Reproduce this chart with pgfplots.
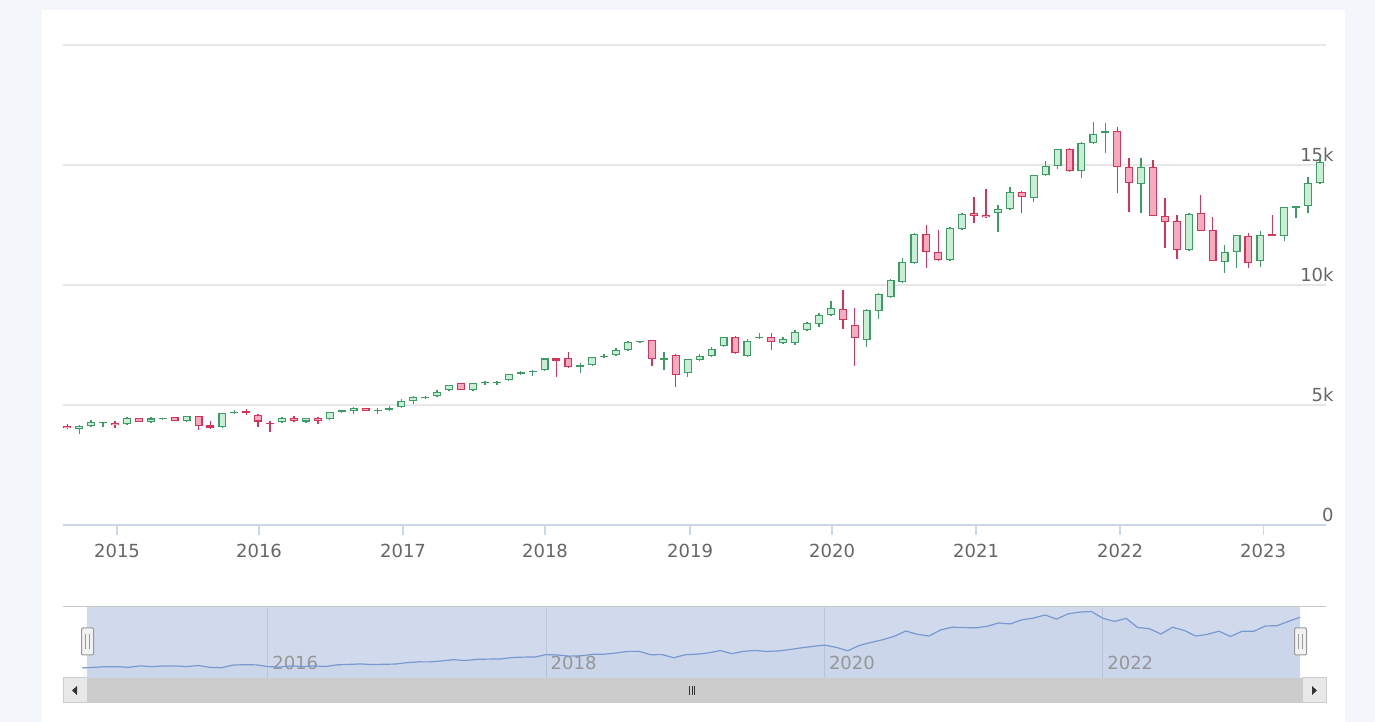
\documentclass[border=0pt]{standalone}
\usepackage{fontspec}
\setmainfont{DejaVu Sans}
\usepackage{pgfplots}
\usepackage{pgfplotstable}
\pgfplotsset{compat=1.18}

\definecolor{bgout}{RGB}{243,246,251}
\definecolor{gridgray}{RGB}{230,230,230}
\definecolor{axiscol}{RGB}{204,214,235}
\definecolor{labgray}{RGB}{102,102,102}
\definecolor{navlab}{RGB}{150,150,150}
\definecolor{upline}{RGB}{62,155,100}
\definecolor{upfill}{RGB}{200,238,214}
\definecolor{downline}{RGB}{212,52,90}
\definecolor{downfill}{RGB}{246,170,190}
\definecolor{maskcol}{RGB}{209,218,237}
\definecolor{navgrid}{RGB}{190,199,218}
\definecolor{navline}{RGB}{122,152,208}
\definecolor{outlinecol}{RGB}{200,200,200}
\definecolor{handlefill}{RGB}{242,242,242}
\definecolor{handledraw}{RGB}{153,153,153}
\definecolor{thumb}{RGB}{204,204,204}
\definecolor{btn}{RGB}{232,232,232}
\definecolor{arrowcol}{RGB}{51,51,51}

% month index m: 0 = Jan 2015
\pgfplotstableread{
m o h l c
-4 4140 4220 4010 4030
-3 4000 4150 3780 4140
-2 4140 4370 4130 4280
-1 4250 4290 4100 4290
0 4250 4330 4060 4150
1 4200 4480 4190 4470
2 4450 4470 4290 4300
3 4300 4510 4290 4440
4 4400 4460 4380 4440
5 4490 4500 4320 4330
6 4340 4560 4330 4540
7 4540 4560 3960 4140
8 4150 4330 3990 4060
9 4100 4660 4090 4650
10 4680 4810 4620 4720
11 4760 4830 4600 4680
12 4580 4620 4100 4310
13 4250 4330 3890 4200
14 4280 4480 4270 4470
15 4470 4530 4300 4320
16 4310 4470 4300 4460
17 4470 4480 4190 4330
18 4400 4720 4390 4700
19 4720 4810 4700 4790
20 4760 4900 4630 4890
21 4870 4880 4740 4760
22 4780 4870 4630 4810
23 4810 4950 4760 4870
24 4900 5230 4890 5170
25 5170 5360 5060 5350
26 5280 5360 5260 5340
27 5380 5620 5370 5560
28 5620 5850 5610 5830
29 5900 5910 5620 5640
30 5640 5920 5630 5900
31 5920 5980 5850 5950
32 5930 5990 5830 5970
33 6040 6290 6030 6280
34 6310 6420 6290 6390
35 6360 6450 6210 6400
36 6450 6950 6440 6940
37 6940 6970 6150 6850
38 6950 7200 6550 6600
39 6600 6760 6330 6680
40 6680 7020 6670 7000
41 6990 7130 6980 7030
42 7080 7360 7070 7290
43 7290 7660 7280 7640
44 7630 7680 7570 7660
45 7700 7720 6630 6920
46 6880 7220 6460 6940
47 7080 7120 5760 6250
48 6320 6930 6150 6920
49 6880 7120 6870 7040
50 7040 7430 7030 7330
51 7460 7840 7450 7820
52 7850 7870 7130 7150
53 7050 7730 7030 7660
54 7800 7990 7790 7850
55 7850 7990 7290 7640
56 7570 7850 7560 7740
57 7600 8130 7500 8060
58 8130 8440 8120 8430
59 8370 8820 8260 8750
60 8750 9350 8740 9030
61 8990 9790 8150 8540
62 8330 9030 6630 7780
63 7710 9000 7430 8960
64 8900 9680 8600 9620
65 9510 10250 9450 10210
66 10140 11110 10100 10970
67 10930 12150 10900 12125
68 12125 12500 10690 11390
69 11390 12290 11000 11040
70 11040 12400 11000 12360
71 12320 13000 12300 12960
72 12990 13680 12570 12880
73 12920 13990 12780 12820
74 12990 13330 12220 13150
75 13150 14100 13140 13890
76 13890 13900 12990 13680
77 13610 14600 13470 14580
78 14580 15180 14570 14960
79 14960 15680 14820 15650
80 15650 15700 14720 14750
81 14750 15950 14440 15900
82 15900 16810 15880 16290
83 16350 16740 15510 16400
84 16430 16600 13820 14900
85 14930 15280 13060 14240
86 14210 15280 12990 14900
87 14900 15210 12860 12880
88 12880 13610 11530 12640
89 12680 12920 11070 11460
90 11460 13000 11430 12960
91 12990 13750 12250 12260
92 12290 12850 10990 11010
93 10970 11670 10490 11390
94 11390 12100 10690 12080
95 12040 12180 10690 10930
96 11010 12260 10760 12080
97 12110 12920 12040 12050
98 12050 13260 11820 13240
99 13200 13300 12780 13280
100 13290 14510 12990 14260
101 14260 15350 14220 15140
}\candles

\begin{document}
\begin{tikzpicture}
% backgrounds
\fill[bgout] (0pt,0pt) rectangle (687.5pt,361pt);
\fill[white] (21pt,0pt) rectangle (672.5pt,356pt);
% navigator mask (selected range)
\fill[maskcol] (43.5pt,22pt) rectangle (650pt,57.5pt);
\draw[outlinecol, line width=0.5pt] (31.5pt,57.5pt) -- (663pt,57.5pt);

% ---------------- main chart ----------------
\begin{axis}[
  at={(31.5pt,98.5pt)}, anchor=south west,
  scale only axis, width=631.5pt, height=240pt,
  xmin=-4.36, xmax=101.5, ymin=0, ymax=20000,
  axis x line*=bottom, axis y line*=right,
  x axis line style={draw=axiscol, line width=0.6pt, -},
  y axis line style={draw=none},
  xtick={0.17,12.07,24.14,36.04,48.2,60.1,72.17,84.24,96.23},
  xticklabels={2015,2016,2017,2018,2019,2020,2021,2022,2023},
  ytick={0,5000,10000,15000,20000},
  yticklabels={0,5k,10k,15k,{}},
  ymajorgrids, grid style={draw=gridgray, line width=0.6pt},
  tick align=outside, major tick length=5pt,
  xtick style={draw=axiscol, line width=0.6pt},
  ytick style={draw=none},
  ticklabel style={font=\fontsize{9}{11}\selectfont, text=labgray},
  xticklabel style={anchor=north, inner sep=0pt, yshift=-4.5pt},
  yticklabel style={anchor=south east, inner sep=0pt, xshift=-1pt, yshift=1.5pt},
  scaled y ticks=false,
]
% up candles: wicks
\addplot[forget plot, draw=none, mark=none,
  error bars/.cd, y dir=both, y explicit, error mark=none,
  error bar style={draw=upline, line width=0.7pt}]
  table[x=m, y=o,
    y error plus expr={(\thisrow{h}-\thisrow{o})*(\thisrow{c}>=\thisrow{o})},
    y error minus expr={(\thisrow{o}-\thisrow{l})*(\thisrow{c}>=\thisrow{o})}] {\candles};
% down candles: wicks
\addplot[forget plot, draw=none, mark=none,
  error bars/.cd, y dir=both, y explicit, error mark=none,
  error bar style={draw=downline, line width=0.7pt}]
  table[x=m, y=o,
    y error plus expr={(\thisrow{h}-\thisrow{o})*(\thisrow{c}<\thisrow{o})},
    y error minus expr={(\thisrow{o}-\thisrow{l})*(\thisrow{c}<\thisrow{o})}] {\candles};
% up bodies: border
\addplot[forget plot, draw=none, mark=none,
  error bars/.cd, y dir=plus, y explicit, error mark=none,
  error bar style={draw=upline, line width=4pt}]
  table[x=m, y=o,
    y error plus expr={(\thisrow{c}-\thisrow{o})*(\thisrow{c}>=\thisrow{o})}] {\candles};
% up bodies: fill
\addplot[forget plot, draw=none, mark=none,
  error bars/.cd, y dir=plus, y explicit, error mark=none,
  error bar style={draw=upfill, line width=2.8pt}]
  table[x=m, y expr={\thisrow{o}+45},
    y error plus expr={max(\thisrow{c}-\thisrow{o}-90,0)*(\thisrow{c}>=\thisrow{o})}] {\candles};
% down bodies: border
\addplot[forget plot, draw=none, mark=none,
  error bars/.cd, y dir=plus, y explicit, error mark=none,
  error bar style={draw=downline, line width=4pt}]
  table[x=m, y=c,
    y error plus expr={(\thisrow{o}-\thisrow{c})*(\thisrow{c}<\thisrow{o})}] {\candles};
% down bodies: fill
\addplot[forget plot, draw=none, mark=none,
  error bars/.cd, y dir=plus, y explicit, error mark=none,
  error bar style={draw=downfill, line width=2.8pt}]
  table[x=m, y expr={\thisrow{c}+45},
    y error plus expr={max(\thisrow{o}-\thisrow{c}-90,0)*(\thisrow{c}<\thisrow{o})}] {\candles};
\end{axis}

% ---------------- navigator ----------------
\begin{axis}[
  at={(31.5pt,22pt)}, anchor=south west,
  scale only axis, width=631.5pt, height=35.5pt,
  xmin=-5.67, xmax=103.23, ymin=1800, ymax=17400,
  axis line style={draw=none},
  ytick=\empty,
  xtick={12,36,60,84},
  xticklabels={2016,2018,2020,2022},
  xmajorgrids, grid style={draw=navgrid, line width=0.5pt},
  xtick style={draw=none},
  xticklabel style={font=\fontsize{9}{11}\selectfont, text=navlab,
    anchor=south west, inner sep=0pt, xshift=2pt, yshift=4pt},
]
\addplot[draw=none, fill=navline, fill opacity=0.06, mark=none, forget plot]
  table[x=m, y=c] {\candles} \closedcycle;
\addplot[navline, line width=0.6pt, mark=none] table[x=m, y=c] {\candles};
\end{axis}

% navigator handles
\foreach \hx in {43.75pt,650.25pt}{
  \filldraw[fill=handlefill, draw=handledraw, line width=0.5pt, rounded corners=0.6pt]
    ([xshift=-3pt]\hx,33.5pt) rectangle ([xshift=3pt]\hx,47pt);
  \draw[handledraw, line width=0.5pt] ([xshift=-0.8pt]\hx,36.5pt) -- ([xshift=-0.8pt]\hx,44pt);
  \draw[handledraw, line width=0.5pt] ([xshift=0.8pt]\hx,36.5pt) -- ([xshift=0.8pt]\hx,44pt);
}

% scrollbar
\fill[thumb] (31.5pt,9.5pt) rectangle (663pt,22pt);
\filldraw[fill=btn, draw=thumb, line width=0.5pt] (31.5pt,9.5pt) rectangle (43.5pt,22pt);
\filldraw[fill=btn, draw=thumb, line width=0.5pt] (651pt,9.5pt) rectangle (663pt,22pt);
\fill[arrowcol] (36pt,15.75pt) -- (38.5pt,18pt) -- (38.5pt,13.5pt) -- cycle;
\fill[arrowcol] (658.5pt,15.75pt) -- (656pt,18pt) -- (656pt,13.5pt) -- cycle;
\draw[arrowcol, line width=0.45pt] (344.6pt,13.6pt) -- (344.6pt,18pt)
  (346pt,13.6pt) -- (346pt,18pt) (347.4pt,13.6pt) -- (347.4pt,18pt);
\end{tikzpicture}
\end{document}
